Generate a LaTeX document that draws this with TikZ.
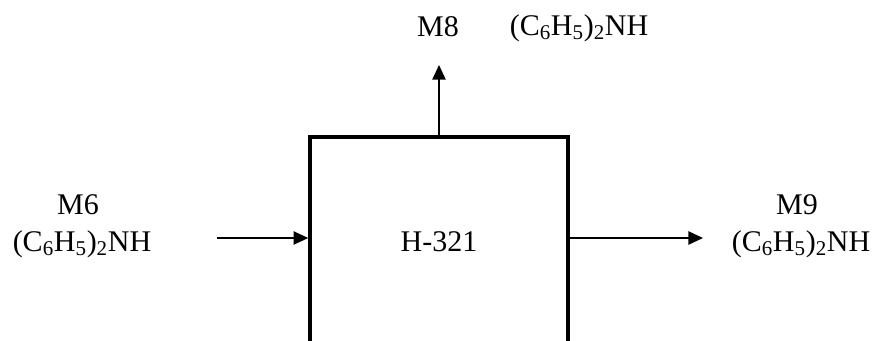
\documentclass[tikz,border=0pt]{standalone}
\usepackage{fontspec}
\setmainfont{Liberation Serif}
\usetikzlibrary{positioning,arrows.meta}
\newcommand{\dpa}{(C\textsubscript{6}H\textsubscript{5})\textsubscript{2}NH}

\begin{document}
\begin{tikzpicture}[
x=0.75pt,y=-0.75pt,
font=\fontsize{22.5}{27}\selectfont,
unit/.style={rectangle,draw,line width=3.2pt,minimum width=193pt,minimum height=158pt,inner sep=0pt},
lbl/.style={inner sep=0pt,align=center},
flow/.style={-{Triangle[length=11pt,width=10pt]},line width=1.1pt}
]
\useasboundingbox (0,0) rectangle (878,340);
\node[unit] (h321) at (439,242) {H-321};
% streams
\coordinate (m6) at (217,238);
\coordinate (m8) at (439,65);
\coordinate (m9) at (703,238);
\node[lbl] (m6a) at (78,205) {M6};
\node[lbl] (m6b) at (82,244) {\dpa};
\node[lbl] (m8a) at (438,27) {M8};
\node[lbl] (m8b) at (579,28) {\dpa};
\node[lbl] (m9a) at (797,205) {M9};
\node[lbl] (m9b) at (801,244) {\dpa};
\draw[flow] (m6) -- (m6 -| h321.west);
\draw[flow] (h321.north) -- (m8);
\draw[flow] (m9 -| h321.east) -- (m9);
\end{tikzpicture}
\end{document}
